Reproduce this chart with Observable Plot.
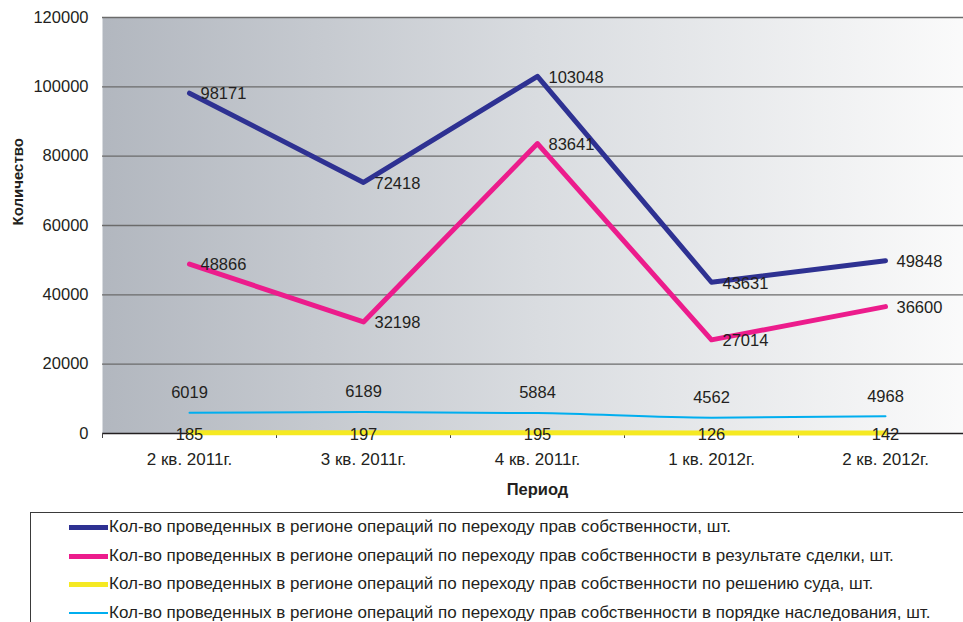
<!DOCTYPE html>
<html>
<head>
<meta charset="utf-8">
<script src="https://cdn.jsdelivr.net/npm/d3@7"></script>
<script src="https://cdn.jsdelivr.net/npm/@observablehq/plot@0.6"></script>
<style>
  html, body { margin: 0; padding: 0; background: #fff; overflow: hidden; }
  body { width: 963px; height: 622px; position: relative; font-family: "Liberation Sans", Arial, sans-serif; color: #231f20; }
  #chart { position: absolute; left: 0; top: 0; }
  #legend { position: absolute; left: 30px; top: 512px; width: 1000px; height: 130px;
            border-left: 1px solid #3a3a3a; border-top: 1px solid #3a3a3a; }
  .row { position: absolute; left: 0; height: 20px; display: flex; align-items: center; font-size: 17px; white-space: nowrap; }
  .sw { width: 39px; margin-left: 38px; margin-right: 1px; }
</style>
</head>
<body>
<div id="chart"></div>
<div id="legend"></div>
<script>
const categories = ["2 кв. 2011г.", "3 кв. 2011г.", "4 кв. 2011г.", "1 кв. 2012г.", "2 кв. 2012г."];
const seriesNames = [
  "Кол-во проведенных в регионе операций по переходу прав собственности, шт.",
  "Кол-во проведенных в регионе операций по переходу прав собственности в результате сделки, шт.",
  "Кол-во проведенных в регионе операций по переходу прав собственности по решению суда, шт.",
  "Кол-во проведенных в регионе операций по переходу прав собственности в порядке наследования, шт."
];
const totalOps = [98171, 72418, 103048, 43631, 49848];
const dealOps = [48866, 32198, 83641, 27014, 36600];
const courtOps = [185, 197, 195, 126, 142];
const inheritOps = [6019, 6189, 5884, 4562, 4968];
const yTicks = [0, 20000, 40000, 60000, 80000, 100000, 120000];
const colors = ["#2e3192", "#ec1c8c", "#f5e922", "#00aeef"];
const widths = [5, 5, 5, 2];

const seriesValues = [totalOps, dealOps, courtOps, inheritOps];
const rows = seriesValues.map((vals, s) => vals.map((v, i) => ({s, i, v})));
const idx = categories.map((_, i) => i);
const bounds = categories.map((_, i) => i - 0.5).concat([categories.length - 0.5]);

const textColor = "#231f20";
const plot = Plot.plot({
  width: 963,
  height: 505,
  marginLeft: 102,
  marginRight: -9,
  marginTop: 17,
  marginBottom: 72,
  style: {fontFamily: "'Liberation Sans', Arial, sans-serif", fontSize: "16px", color: textColor, background: "transparent"},
  x: {domain: [-0.5, categories.length - 0.5]},
  y: {domain: [0, 120000]},
  marks: [
    Plot.frame({fill: "url(#bgGrad)", stroke: "none"}),
    Plot.ruleY(yTicks.filter(d => d > 0), {stroke: "#6b6b6b", strokeWidth: 1.3}),
    Plot.ruleY([0], {stroke: "#231f20", strokeWidth: 1.3}),
    Plot.axisY({ticks: yTicks, tickSize: 0, tickPadding: 14, tickFormat: d => String(d), label: null, fontSize: 16.5, fill: textColor}),
    Plot.axisX({ticks: bounds, tickSize: 5, tickFormat: () => "", label: null, stroke: "#444"}),
    Plot.axisX({ticks: idx, tickSize: 0, tickPadding: 19, tickFormat: i => categories[i], label: null, fontSize: 17, fill: textColor}),
    Plot.line(rows[3], {x: "i", y: "v", stroke: colors[3], strokeWidth: widths[3], curve: "monotone-x"}),
    Plot.line(rows[2], {x: "i", y: "v", stroke: colors[2], strokeWidth: widths[2]}),
    Plot.line(rows[1], {x: "i", y: "v", stroke: colors[1], strokeWidth: widths[1]}),
    Plot.line(rows[0], {x: "i", y: "v", stroke: colors[0], strokeWidth: widths[0]}),
    Plot.text(rows[0], {x: "i", y: "v", text: d => String(d.v), textAnchor: "start", dx: 11, dy: 1, fontSize: 16.5, fill: textColor}),
    Plot.text(rows[1], {x: "i", y: "v", text: d => String(d.v), textAnchor: "start", dx: 11, dy: 1, fontSize: 16.5, fill: textColor}),
    Plot.text(rows[3], {x: "i", y: "v", text: d => String(d.v), dy: -20, fontSize: 16.5, fill: textColor}),
    Plot.text(rows[2], {x: "i", y: "v", text: d => String(d.v), dy: 2, fontSize: 16.5, fill: textColor}),
    Plot.text(["Количество"], {frameAnchor: "left", rotate: -90, dx: -84, fontSize: 15, fontWeight: "bold", fill: textColor}),
    Plot.text(["Период"], {frameAnchor: "bottom", dy: 61, fontSize: 16.5, fontWeight: "bold", fill: textColor})
  ]
});

const svgNS = "http://www.w3.org/2000/svg";
const defs = document.createElementNS(svgNS, "defs");
const grad = document.createElementNS(svgNS, "linearGradient");
grad.setAttribute("id", "bgGrad");
grad.setAttribute("x1", "0"); grad.setAttribute("x2", "1"); grad.setAttribute("y1", "0"); grad.setAttribute("y2", "0");
[["0%", "#b2b7bf"], ["50%", "#d9dce0"], ["100%", "#fbfbfb"]].forEach(([o, c]) => {
  const st = document.createElementNS(svgNS, "stop");
  st.setAttribute("offset", o); st.setAttribute("stop-color", c);
  grad.appendChild(st);
});
defs.appendChild(grad);
plot.insertBefore(defs, plot.firstChild);
document.getElementById("chart").appendChild(plot);

const legend = document.getElementById("legend");
const rowTops = [4, 33, 61, 90];
seriesNames.forEach((name, s) => {
  const r = document.createElement("div");
  r.className = "row";
  r.style.top = rowTops[s] + "px";
  const sw = document.createElement("div");
  sw.className = "sw";
  sw.style.height = widths[s] + "px";
  sw.style.background = colors[s];
  const t = document.createElement("span");
  t.textContent = name;
  r.appendChild(sw); r.appendChild(t);
  legend.appendChild(r);
});
</script>
</body>
</html>
